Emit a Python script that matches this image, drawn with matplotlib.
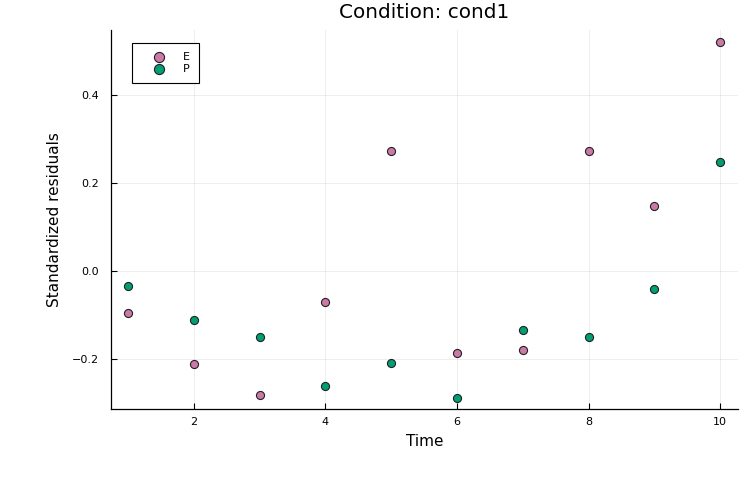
import matplotlib
matplotlib.use("Agg")
import matplotlib.pyplot as plt

time = [1, 2, 3, 4, 5, 6, 7, 8, 9, 10]
resid_E = [-0.095, -0.211, -0.282, -0.070, 0.272, -0.187, -0.180, 0.272, 0.148, 0.520]
resid_P = [-0.034, -0.111, -0.150, -0.261, -0.209, -0.289, -0.134, -0.151, -0.041, 0.248]
series_labels = ["E", "P"]
title = "Condition: cond1"
xticks = [2, 4, 6, 8, 10]
yticks = [-0.2, 0.0, 0.2, 0.4]

fig = plt.figure(figsize=(7.5, 5), dpi=100)
ax = fig.add_axes([111 / 750, 91 / 500, 627 / 750, 379 / 500])

ax.scatter(time, resid_E, s=34, color="#CC79A7", edgecolor="#222222", linewidth=0.8,
           label=series_labels[0], zorder=3)
ax.scatter(time, resid_P, s=34, color="#009E73", edgecolor="#222222", linewidth=0.8,
           label=series_labels[1], zorder=3)

ax.set_xlim(0.741, 10.27)
ax.set_ylim(-0.3136, 0.548)
ax.set_xticks(xticks)
ax.set_xticklabels([str(t) for t in xticks])
ax.set_yticks(yticks)
ax.set_yticklabels(["\u22120.2", "0.0", "0.2", "0.4"])
ax.grid(True, color="black", alpha=0.08, linewidth=0.6)
ax.set_axisbelow(True)
for s in ["top", "right"]:
    ax.spines[s].set_visible(False)
for s in ["left", "bottom"]:
    ax.spines[s].set_linewidth(0.9)
ax.tick_params(axis="y", direction="in", length=4, width=0.8, labelsize=8, pad=8.5)
ax.tick_params(axis="x", direction="in", length=4, width=0.8, labelsize=8, pad=6)

ax.set_title(title, fontsize=14.4, pad=9)
ax.set_xlabel("Time", fontsize=11, labelpad=5)
ax.set_ylabel("Standardized residuals", fontsize=11, labelpad=7)

leg = ax.legend(loc="upper left", bbox_to_anchor=(0.0335, 0.966), borderaxespad=0,
                fontsize=8, markerscale=1.25, fancybox=False, framealpha=1,
                edgecolor="black", handletextpad=0.5, borderpad=0.8,
                labelspacing=0.2, handlelength=3.3)
leg.get_frame().set_linewidth(0.8)

fig.savefig("out.png", dpi=100)
